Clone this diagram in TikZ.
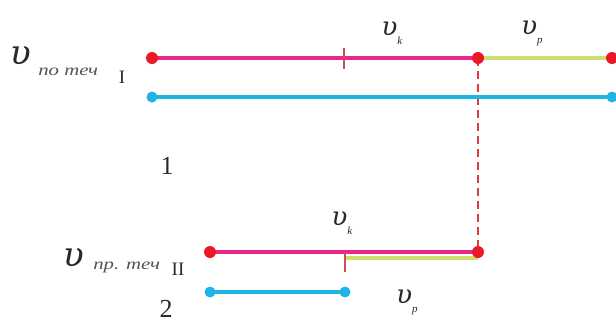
\documentclass[tikz,border=0pt]{standalone}
\usepackage{fontspec}
\newfontfamily\cyrfont{Liberation Serif}
\newfontfamily\grkfont{DejaVu Serif}
\usetikzlibrary{calc}
\definecolor{pinkline}{RGB}{232,40,140}
\definecolor{reddot}{RGB}{235,25,40}
\definecolor{greenline}{RGB}{205,222,110}
\definecolor{blueline}{RGB}{30,180,228}
\definecolor{tickcol}{RGB}{200,80,80}
\definecolor{dashcol}{RGB}{220,60,60}
\definecolor{txt}{RGB}{40,40,40}
\newcommand{\vel}[1]{{\grkfont\itshape υ}\raisebox{-0.35em}{\fontsize{11}{12}\selectfont\cyrfont\itshape #1}}
\begin{document}
\begin{tikzpicture}[x=1pt,y=-1pt,
  rdot/.style={circle,fill=reddot,inner sep=0pt,minimum size=12pt},
  bdot/.style={circle,fill=blueline,inner sep=0pt,minimum size=11pt},
  pink/.style={draw=pinkline,line width=4.5pt},
  blue/.style={draw=blueline,line width=4.5pt},
  green/.style={draw=greenline,line width=3.5pt},
  tick/.style={draw=tickcol,line width=2.2pt},
  dashln/.style={draw=dashcol,line width=2.2pt,dash pattern=on 8pt off 5pt},
  lbl/.style={inner sep=0pt,text=txt,font=\fontsize{26}{30}\selectfont},
  biglbl/.style={inner sep=0pt,text=txt,font=\fontsize{34}{38}\selectfont\grkfont\itshape},
  sub/.style={inner sep=0pt,text=txt!80,xscale=1.3,font=\fontsize{16}{18}\selectfont\cyrfont\itshape},
  num/.style={inner sep=0pt,text=txt,font=\fontsize{26}{30}\selectfont\cyrfont},
  roman/.style={inner sep=0pt,text=txt,font=\fontsize{19}{21}\selectfont\cyrfont}]
\useasboundingbox (0,0) rectangle (616,322);
% coordinates
\coordinate (a1) at (152,58);
\coordinate (a2) at (478,58);
\coordinate (a3) at (612,58);
\coordinate (t1a) at (344,48);
\coordinate (t1b) at (344,69);
\coordinate (b1) at (152,97);
\coordinate (b2) at (612,97);
\coordinate (c1) at (210,252);
\coordinate (c2) at (478,252);
\coordinate (g1) at (345,258);
\coordinate (g2) at (478,258);
\coordinate (t2a) at (345,252);
\coordinate (t2b) at (345,272);
\coordinate (d1) at (210,292);
\coordinate (d2) at (345,292);
% lines
\draw[dashln] (a2) -- (c2);
\draw[pink] (a1) -- (a2);
\draw[green] (a2) -- (a3);
\draw[tick] (t1a) -- (t1b);
\draw[blue] (b1) -- (b2);
\draw[green] (g1) -- (g2);
\draw[pink] (c1) -- (c2);
\draw[tick] (t2a) -- (t2b);
\draw[blue] (d1) -- (d2);
% dots
\node[rdot] (A1) at (a1) {};
\node[rdot] (A2) at (a2) {};
\node[rdot] (A3) at (a3) {};
\node[bdot] (B1) at (b1) {};
\node[bdot] (B2) at (b2) {};
\node[rdot] (C1) at (c1) {};
\node[rdot] (C2) at (c2) {};
\node[bdot] (D1) at (d1) {};
\node[bdot] (D2) at (d2) {};
% labels
\node[lbl] (vk1) at (392,33) {\vel{k}};
\node[lbl] (vp1) at (532,33) {\vel{p}};
\node[lbl] (vk2) at (342,223) {\vel{k}};
\node[lbl] (vp2) at (407,302) {\vel{p}};
\node[num] (n1) at (167,166) {1};
\node[num] (n2) at (166,309) {2};
\node[biglbl] (L1) at (21,56) {υ};
\node[sub,anchor=west] (L1s) at (38,72) {по теч};
\node[roman] (L1n) at (122,77) {I};
\node[biglbl] (L2) at (74,258) {υ};
\node[sub,anchor=west] (L2s) at (93,267) {пр. теч};
\node[roman] (L2n) at (178,269) {II};
\end{tikzpicture}
\end{document}
